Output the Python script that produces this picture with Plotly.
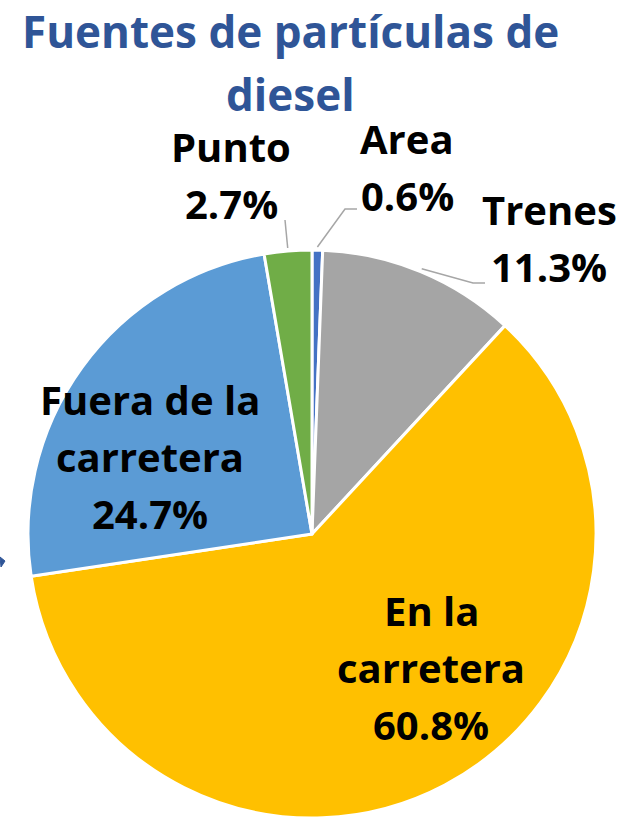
import math
import plotly.graph_objects as go

# ---- data ----
categories = ["Area", "Trenes", "En la carretera", "Fuera de la carretera", "Punto"]
label_lines = [["Area"], ["Trenes"], ["En la", "carretera"], ["Fuera de la", "carretera"], ["Punto"]]
values = [0.6, 11.3, 60.8, 24.7, 2.7]
pct_labels = ["0.6%", "11.3%", "60.8%", "24.7%", "2.7%"]
title_lines = ["Fuentes de partículas de", "diesel"]

# ---- layout / style ----
W, H = 633, 819
OFF = 0  # page body margin removed via post_script
colors = ["#4472C4", "#A5A5A5", "#FFC000", "#5B9BD5", "#70AD47"]
CX, CY, R = 312, 534, 284
FONT = "Open Sans"
LABEL_SIZE = 40
TITLE_SIZE = 44
LINE_STEP = 57
title_pos = [(290, 31), (290, 94)]
# label block (center x, center y of first line) per slice
label_pos = [(407, 138), (549, 210), (431, 610), (150, 399), (231, 146)]
# leader line elbows per slice (None => no leader)
leader = [[(345, 209), (357, 209)], [(473, 283), (485, 283)], None, None, [(285, 220)]]


def px(x):
    return (x - OFF) / W


def py(y):
    return 1 - (y - OFF) / H


fig = go.Figure(go.Pie(
    labels=categories,
    values=values,
    sort=False,
    direction="clockwise",
    rotation=0,
    marker=dict(colors=colors, line=dict(color="white", width=3)),
    textinfo="none",
    hoverinfo="label+percent",
    showlegend=False,
    domain=dict(x=[px(CX - R), px(CX + R)], y=[py(CY + R), py(CY - R)]),
))

annotations = []
for i, (tx, ty) in enumerate(title_pos):
    annotations.append(dict(
        text="<b>%s</b>" % title_lines[i], x=px(tx), y=py(ty), xref="paper", yref="paper",
        xanchor="center", yanchor="middle", showarrow=False,
        font=dict(family=FONT, size=TITLE_SIZE, color="#2F5597")))

for i, cat in enumerate(categories):
    lines = label_lines[i] + [pct_labels[i]]
    lx, ly = label_pos[i]
    for j, ln in enumerate(lines):
        annotations.append(dict(
            text="<b>%s</b>" % ln, x=px(lx), y=py(ly + j * LINE_STEP), xref="paper", yref="paper",
            xanchor="center", yanchor="middle", showarrow=False,
            font=dict(family=FONT, size=LABEL_SIZE, color="black")))

# leader lines starting at the slice mid-angle on the rim
total = sum(values)
shapes = []
cum = 0
for i, v in enumerate(values):
    mid = (cum + v / 2) / total * 2 * math.pi
    cum += v
    if leader[i] is None:
        continue
    r0 = R + 3
    pts = [(CX + r0 * math.sin(mid), CY - r0 * math.cos(mid))] + leader[i]
    path = "M " + " L ".join("%f,%f" % (px(a), py(b)) for a, b in pts)
    shapes.append(dict(type="path", path=path, xref="paper", yref="paper",
                       line=dict(color="#A6A6A6", width=1.5)))

# small cropped arrow fragment at the left edge of the original slide
arrow_pts = [(0, 557), (5, 561), (1, 567)]
shapes.append(dict(type="path", xref="paper", yref="paper",
                   path="M " + " L ".join("%f,%f" % (px(a), py(b)) for a, b in arrow_pts) + " Z",
                   fillcolor="#2F5597", line=dict(color="#2F5597", width=1)))

fig.update_layout(
    width=W, height=H,
    margin=dict(l=0, r=0, t=0, b=0),
    paper_bgcolor="white", plot_bgcolor="white",
    annotations=annotations, shapes=shapes,
)

fig.write_html("out.html", config={"displayModeBar": False},
               post_script="document.body.style.margin='0';")
